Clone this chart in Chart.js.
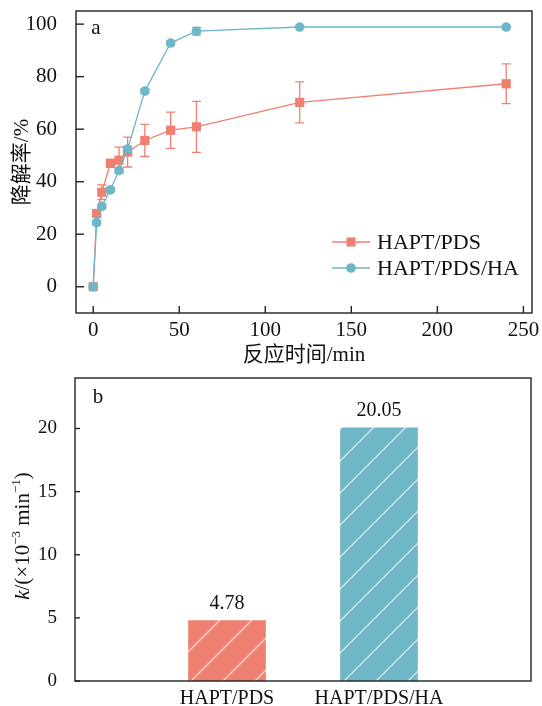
<!DOCTYPE html>
<html>
<head>
<meta charset="utf-8">
<script src="https://cdn.jsdelivr.net/npm/chart.js@4"></script>
<style>
  html, body { margin: 0; padding: 0; background: #fff; }
  #wrapA { position: absolute; left: 0; top: 0; width: 542px; height: 370px; }
  #wrapB { position: absolute; left: 0; top: 370px; width: 542px; height: 336px; }
</style>
</head>
<body>
<div id="wrapA"><canvas id="chartA"></canvas></div>
<div id="wrapB"><canvas id="chartB"></canvas></div>
<script>
// panel a: degradation vs time
const times = [0, 2, 5, 10, 15, 20, 30, 45, 60, 120, 240];
const pdsValues = [0, 27.9, 36.0, 47.0, 48.2, 51.3, 55.7, 59.6, 60.9, 70.2, 77.3];
const pdsErrors = [0, 1.5, 2.8, 1.5, 5.0, 5.7, 6.1, 6.9, 9.7, 7.8, 7.6];
const haValues = [0, 24.4, 30.6, 36.9, 44.3, 52.4, 74.5, 92.8, 97.3, 98.9, 98.9];
const haErrors = [0.5, 0.8, 0.8, 0.8, 0.8, 1.0, 0.8, 0.8, 1.5, 0.5, 0.5];
const xTicksA = [0, 50, 100, 150, 200, 250];
const yTicksA = [0, 20, 40, 60, 80, 100];

// panel b: rate constants
const samples = ['HAPT/PDS', 'HAPT/PDS/HA'];
const kValues = [4.78, 20.05];
const yTicksB = [0, 5, 10, 15, 20];

const FONT = "'Liberation Serif', 'Noto Sans CJK SC', serif";
const RED = '#EE8072';
const TEAL = '#6DB7C6';
const INK = '#111';

// keep the plot box where it is: no label overflow padding
function noPad(s) {
    s.paddingTop = 0; s.paddingBottom = 0;
    s.paddingLeft = 0; s.paddingRight = 0;
}

// box around the plot + inward tick marks
const frame = {
    id: 'frame',
    afterDraw(chart, args, opts) {
        const { ctx, chartArea: a } = chart;
        ctx.save();
        ctx.strokeStyle = '#222';
        ctx.lineWidth = 1.4;
        ctx.strokeRect(a.left, a.top, a.right - a.left, a.bottom - a.top);
        (opts.ticks || []).forEach(t => {
            const s = chart.scales[t.axis];
            s.ticks.forEach(tk => {
                const p = s.getPixelForValue(tk.value);
                ctx.beginPath();
                if (t.axis === 'x') {
                    ctx.moveTo(p, a.bottom); ctx.lineTo(p, a.bottom - t.len);
                } else {
                    ctx.moveTo(a.left, p); ctx.lineTo(a.left + t.len, p);
                }
                ctx.stroke();
            });
        });
        ctx.restore();
    }
};

const errorBars = {
    id: 'errorBars',
    beforeDatasetsDraw(chart) {
        const { ctx } = chart;
        const y = chart.scales.y;
        chart.data.datasets.forEach((ds, i) => {
            if (!ds.errors) return;
            const meta = chart.getDatasetMeta(i);
            ctx.save();
            ctx.strokeStyle = ds.borderColor;
            ctx.lineWidth = 1.3;
            meta.data.forEach((pt, j) => {
                const e = ds.errors[j];
                if (!e) return;
                const v = ds.data[j].y;
                const top = y.getPixelForValue(v + e);
                const bot = y.getPixelForValue(v - e);
                ctx.beginPath();
                ctx.moveTo(pt.x, top); ctx.lineTo(pt.x, bot);
                ctx.moveTo(pt.x - 4.5, top); ctx.lineTo(pt.x + 4.5, top);
                ctx.moveTo(pt.x - 4.5, bot); ctx.lineTo(pt.x + 4.5, bot);
                ctx.stroke();
            });
            ctx.restore();
        });
    }
};

// legend with a line through the marker, inside the plot
const lineLegend = {
    id: 'lineLegend',
    afterDraw(chart, args, opts) {
        if (!opts.rows) return;
        const { ctx, chartArea: a } = chart;
        ctx.save();
        ctx.font = '22px ' + FONT;
        ctx.textBaseline = 'middle';
        chart.data.datasets.forEach((ds, i) => {
            const y = a.bottom + opts.rows[i];
            const x0 = a.right + opts.x0, x1 = a.right + opts.x1;
            ctx.strokeStyle = ds.borderColor;
            ctx.lineWidth = 1.3;
            ctx.beginPath(); ctx.moveTo(x0, y); ctx.lineTo(x1, y); ctx.stroke();
            ctx.fillStyle = ds.backgroundColor;
            const cx = (x0 + x1) / 2;
            if (ds.pointStyle === 'rect') {
                ctx.fillRect(cx - 4.5, y - 4.5, 9, 9);
            } else {
                ctx.beginPath(); ctx.arc(cx, y, 4.8, 0, Math.PI * 2); ctx.fill();
            }
            ctx.fillStyle = INK;
            ctx.fillText(ds.label, a.right + opts.tx, y + 1);
        });
        ctx.restore();
    }
};

const panelLetter = {
    id: 'panelLetter',
    afterDraw(chart, args, opts) {
        const { ctx, chartArea: a } = chart;
        ctx.save();
        ctx.font = '21px ' + FONT;
        ctx.fillStyle = INK;
        ctx.textAlign = 'center';
        ctx.textBaseline = 'middle';
        ctx.fillText(opts.text, a.left + opts.dx, a.top + opts.dy);
        ctx.restore();
    }
};

const barValues = {
    id: 'barValues',
    afterDatasetsDraw(chart) {
        const { ctx } = chart;
        const ds = chart.data.datasets[0];
        const meta = chart.getDatasetMeta(0);
        ctx.save();
        ctx.font = '20px ' + FONT;
        ctx.fillStyle = INK;
        ctx.textAlign = 'center';
        ctx.textBaseline = 'middle';
        meta.data.forEach((bar, i) => {
            const v = ds.data[i];
            if (v == null) return;
            ctx.fillText(v.toFixed(2), bar.x, bar.y - 17);
        });
        ctx.restore();
    }
};

// y title of panel b: k/(×10^-3 min^-1), k in italics
const richTitle = {
    id: 'richTitle',
    afterDraw(chart, args, opts) {
        const { ctx, chartArea: a } = chart;
        const parts = [
            { t: 'k', f: 'italic 21px ' + FONT, dy: 0 },
            { t: '/(\u00d710', f: '21px ' + FONT, dy: 0 },
            { t: '\u22123', f: '13px ' + FONT, dy: -7 },
            { t: ' min', f: '21px ' + FONT, dy: 0 },
            { t: '\u22121', f: '13px ' + FONT, dy: -7 },
            { t: ')', f: '21px ' + FONT, dy: 0 }
        ];
        ctx.save();
        let total = 0;
        parts.forEach(p => { ctx.font = p.f; p.w = ctx.measureText(p.t).width; total += p.w; });
        ctx.translate(opts.x, (a.top + a.bottom) / 2 + opts.dy);
        ctx.rotate(-Math.PI / 2);
        ctx.fillStyle = INK;
        ctx.textBaseline = 'middle';
        let x = -total / 2;
        parts.forEach(p => {
            ctx.font = p.f;
            ctx.fillText(p.t, x, p.dy);
            x += p.w;
        });
        ctx.restore();
    }
};

function hatch(ctx, color, shift) {
    const c = document.createElement('canvas');
    c.width = 32; c.height = 32;
    const g = c.getContext('2d');
    g.fillStyle = color;
    g.fillRect(0, 0, 32, 32);
    g.strokeStyle = 'rgba(255,255,255,0.85)';
    g.lineWidth = 1.1;
    g.beginPath();
    g.moveTo(-1, 33); g.lineTo(33, -1);
    g.moveTo(-2, 2); g.lineTo(2, -2);
    g.moveTo(30, 34); g.lineTo(34, 30);
    g.stroke();
    const pat = ctx.createPattern(c, 'repeat');
    pat.setTransform(new DOMMatrix().translate(shift, 0));
    return pat;
}

document.addEventListener('DOMContentLoaded', function () {
    const ctxA = document.getElementById('chartA');
    new Chart(ctxA, {
        type: 'line',
        data: {
            datasets: [{
                label: 'HAPT/PDS',
                data: times.map((t, i) => ({ x: t, y: pdsValues[i] })),
                errors: pdsErrors,
                borderColor: RED,
                backgroundColor: RED,
                borderWidth: 1.3,
                pointStyle: 'rect',
                pointRadius: 6.5,
                pointBorderWidth: 0,
                order: 1
            }, {
                label: 'HAPT/PDS/HA',
                data: times.map((t, i) => ({ x: t, y: haValues[i] })),
                errors: haErrors,
                borderColor: TEAL,
                backgroundColor: TEAL,
                borderWidth: 1.3,
                pointStyle: 'circle',
                pointRadius: 4.8,
                pointBorderWidth: 0,
                order: 0
            }]
        },
        options: {
            animation: false,
            responsive: true,
            maintainAspectRatio: false,
            layout: { padding: { top: 11, right: 10, left: 0, bottom: 0 }, autoPadding: false },
            plugins: {
                legend: { display: false },
                tooltip: { enabled: false },
                frame: { ticks: [{ axis: 'x', len: 7 }, { axis: 'y', len: 8 }] },
                lineLegend: { rows: [-71, -45], x0: -200, x1: -162, tx: -155 },
                panelLetter: { text: 'a', dx: 20, dy: 17 }
            },
            scales: {
                x: {
                    type: 'linear',
                    min: -10,
                    max: 255,
                    afterBuildTicks: s => { s.ticks = xTicksA.map(v => ({ value: v })); },
                    afterFit: s => { s.height = 57; noPad(s); },
                    grid: { display: false },
                    border: { display: false },
                    ticks: { padding: -1, color: INK, maxRotation: 0, font: { family: FONT, size: 21, lineHeight: 1 } },
                    title: { display: true, text: '反应时间/min', color: INK, font: { family: FONT, size: 21 }, padding: { top: 0, bottom: 2 } }
                },
                y: {
                    min: -10,
                    max: 105,
                    afterBuildTicks: s => { s.ticks = yTicksA.map(v => ({ value: v })); },
                    afterFit: s => { s.width = 76; noPad(s); },
                    grid: { display: false },
                    border: { display: false },
                    ticks: { padding: 11, color: INK, font: { family: FONT, size: 21 } },
                    title: { display: true, text: '降解率/%', color: INK, font: { family: FONT, size: 21 }, padding: { top: 10, bottom: 0 } }
                }
            }
        },
        plugins: [errorBars, frame, lineLegend, panelLetter]
    });

    const ctxB = document.getElementById('chartB');
    const g = ctxB.getContext('2d');
    new Chart(ctxB, {
        type: 'bar',
        data: {
            labels: ['', ...samples, ''],
            datasets: [{
                data: [null, ...kValues, null],
                backgroundColor: [RED, hatch(g, RED, 22), hatch(g, TEAL, 15), TEAL],
                borderWidth: 0,
                barThickness: 77
            }]
        },
        options: {
            animation: false,
            responsive: true,
            maintainAspectRatio: false,
            layout: { padding: { top: 8, right: 11, left: 0, bottom: 0 }, autoPadding: false },
            plugins: {
                legend: { display: false },
                tooltip: { enabled: false },
                frame: { ticks: [{ axis: 'y', len: 5 }] },
                panelLetter: { text: 'b', dx: 23, dy: 19 },
                richTitle: { x: 23.5, dy: 6.5 }
            },
            scales: {
                x: {
                    offset: false,
                    afterFit: s => { s.height = 25; noPad(s); },
                    grid: { display: false },
                    border: { display: false },
                    ticks: { padding: 0, autoSkip: false, maxRotation: 0, color: INK, font: { family: FONT, size: 20, lineHeight: 1 } }
                },
                y: {
                    min: 0,
                    max: 24,
                    afterBuildTicks: s => { s.ticks = yTicksB.map(v => ({ value: v })); },
                    afterFit: s => { s.width = 75; noPad(s); },
                    grid: { display: false },
                    border: { display: false },
                    ticks: { padding: 10, color: INK, font: { family: FONT, size: 19 } }
                }
            }
        },
        plugins: [frame, barValues, panelLetter, richTitle]
    });
});
</script>
</body>
</html>
